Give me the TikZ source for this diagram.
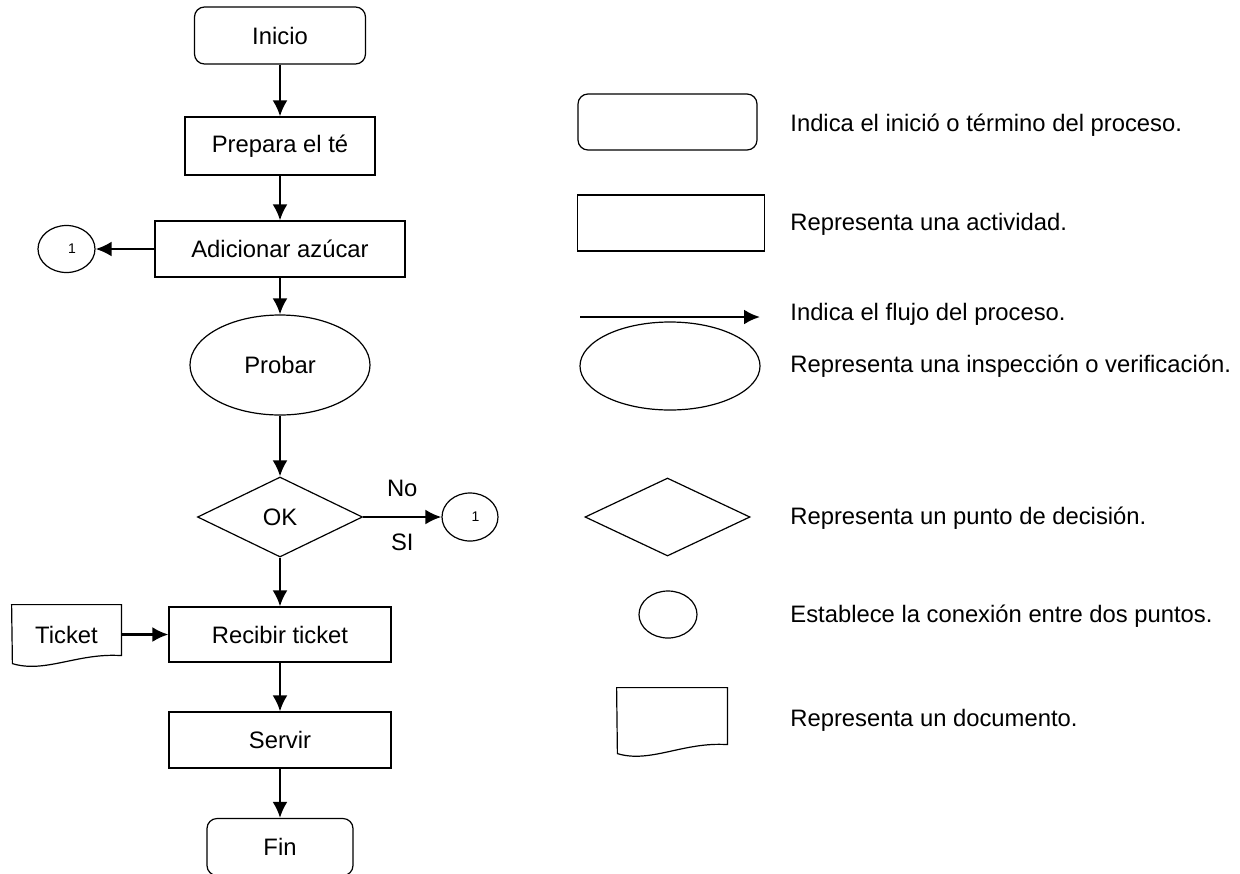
\documentclass[tikz,border=0pt]{standalone}
\usepackage{fontspec}
\setmainfont{Liberation Sans}
\usetikzlibrary{shapes,arrows.meta,positioning}
\tikzstyle{every node} = [font=\fontsize{11.9}{14}\selectfont]
\tikzstyle{startstop} = [draw, rectangle, rounded corners=5pt, minimum height=28.5pt, line width=0.6pt]
\tikzstyle{block} = [draw, rectangle, minimum height=28pt, line width=0.6pt]
\tikzstyle{check} = [draw, ellipse, minimum width=90pt, minimum height=50pt, line width=0.6pt]
\tikzstyle{decision} = [draw, diamond, minimum width=82.5pt, minimum height=40pt, inner sep=0pt, line width=0.6pt]
\tikzstyle{conn} = [draw, ellipse, minimum width=28.5pt, minimum height=23.5pt, inner sep=0pt, line width=0.6pt, font=\fontsize{7}{8}\selectfont]
\tikzstyle{docu} = [rectangle, inner sep=0pt]
\tikzstyle{flow} = [->, line width=1.25pt]
\tikzstyle{legend} = [anchor=west, inner sep=0pt]

\begin{document}
\begin{tikzpicture}[x=0.5pt,y=-0.5pt,>={Latex[length=8pt,width=7.5pt]}]
    \useasboundingbox (0,0) rectangle (1240,873);

    % flujo
    \node [startstop, minimum width=85.5pt] (inicio) at (280,35.5) {Inicio};
    \node [block, minimum width=95pt, minimum height=29pt] (prepara) at (280,146) {Prepara el té};
    \node [block, minimum width=125pt] (azucar) at (280,249) {Adicionar azúcar};
    \node [conn] (c1) at (66.5,249) {\hspace{5.5pt}\raisebox{-1.5pt}{1}};
    \node [check] (probar) at (280,365) {Probar};
    \node [decision] (ok) at (280,517) {OK};
    \node [conn, minimum width=28pt, minimum height=24pt] (c2) at (470,517) {\hspace{5.5pt}\raisebox{-1.5pt}{1}};
    \node [docu, minimum width=54.5pt, minimum height=29.5pt] (ticket) at (66.5,634.5) {Ticket};
    \node [block, minimum width=111pt, minimum height=27.5pt] (recibir) at (280,634.5) {Recibir ticket};
    \node [block, minimum width=111pt] (servir) at (280,740) {Servir};
    \node [startstop, minimum width=73pt] (fin) at (280,847) {Fin};

    \draw [line width=0.6pt] (ticket.north west) -- (ticket.north east) -- ++(0,51)
        .. controls +(-43.6,-3) and +(32.7,10) .. ++(-109,8) -- cycle;

    \draw [flow] (inicio) -- (prepara);
    \draw [flow] (prepara) -- (azucar);
    \draw [flow] (azucar) -- (c1);
    \draw [flow] (azucar) -- (probar);
    \draw [flow] (probar) -- (ok);
    \draw [flow] (ok) -- node [above=6pt] {No} node [below=4.5pt] {SI} (c2);
    \draw [flow] (ok) -- (recibir);
    \draw [flow] (ticket) -- (recibir);
    \draw [flow] (recibir) -- (servir);
    \draw [flow] (servir) -- (fin);

    % leyenda
    \node [startstop, minimum width=89.5pt, minimum height=28pt] (lgini) at (667.5,122) {};
    \node [block, minimum width=93.5pt] (lgact) at (671,223) {};
    \coordinate (lgfrom) at (580,317);
    \coordinate (lgto) at (760,317);
    \node [check, minimum height=44pt] (lgchk) at (670,366) {};
    \node [decision, minimum height=39pt] (lgdec) at (667.5,517) {};
    \node [conn, minimum width=29pt] (lgcon) at (668,614.5) {};
    \node [docu, minimum width=55pt, minimum height=33pt] (lgdoc) at (672,721) {};

    \draw [flow] (lgfrom) -- (lgto);
    \draw [line width=0.6pt] (lgdoc.north west) -- (lgdoc.north east) -- ++(0,57)
        .. controls +(-44,-3) and +(33,10) .. ++(-110,9) -- cycle;

    \node [legend] (t1) at (790,125) {Indica el inició o término del proceso.};
    \node [legend] (t2) at (790,224) {Representa una actividad.};
    \node [legend] (t3) at (790,314) {Indica el flujo del proceso.};
    \node [legend] (t4) at (790,366) {Representa una inspección o verificación.};
    \node [legend] (t5) at (790,518) {Representa un punto de decisión.};
    \node [legend] (t6) at (790,616) {Establece la conexión entre dos puntos.};
    \node [legend] (t7) at (790,720) {Representa un documento.};
\end{tikzpicture}
\end{document}
